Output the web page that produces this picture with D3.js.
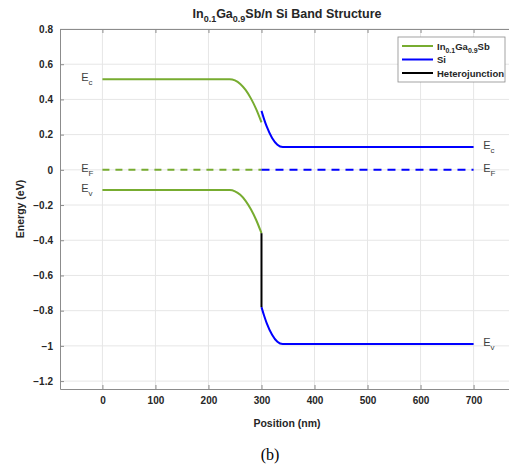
<!DOCTYPE html>
<html>
<head>
<meta charset="utf-8">
<script src="https://cdn.jsdelivr.net/npm/d3@7"></script>
<style>
  body { margin: 0; background: #fff; }
  svg { font-family: Arial, "Liberation Sans", Helvetica, sans-serif; }
</style>
</head>
<body>
<div id="chart"></div>
<script>
// values (position nm, energy eV)
const ingasbEc = [[0, 0.515], [240, 0.515], [250, 0.508], [260, 0.488], [270, 0.454], [280, 0.406], [290, 0.345], [300, 0.27]]
const ingasbEv = [[0, -0.115], [240, -0.115], [250, -0.122], [260, -0.142], [270, -0.176], [280, -0.224], [290, -0.285], [300, -0.36]]
const siEc = [[300, 0.335], [305, 0.287], [310, 0.245], [320, 0.181], [330, 0.143], [340, 0.13], [700, 0.13]]
const siEv = [[300, -0.78], [305, -0.829], [310, -0.872], [320, -0.937], [330, -0.977], [340, -0.99], [700, -0.99]]
const hetero = [[300, -0.36], [300, -0.78]]
const ingasbEf = [[0, 0], [300, 0]]
const siEf = [[300, 0], [700, 0]]
const xTicks = [0, 100, 200, 300, 400, 500, 600, 700]
const yTicks = [0.8, 0.6, 0.4, 0.2, 0, -0.2, -0.4, -0.6, -0.8, -1, -1.2]

const width = 509, height = 465
const m = { left: 60, top: 29, right: -7, bottom: 76 }
const w = width - m.left - m.right, h = height - m.top - m.bottom

const green = '#77ac30', blue = '#0000ff'

let svg = d3.select('#chart').append('svg')
    .attr('width', width)
    .attr('height', height)

let x = d3.scaleLinear().domain([-80, 780]).range([0, w])
let y = d3.scaleLinear().domain([-1.245, 0.8]).range([h, 0])

let g = svg.append('g').attr('transform', `translate(${m.left},${m.top})`)

// grid
g.append('g').selectAll('line').data(xTicks).enter().append('line')
    .attr('x1', d => x(d)).attr('x2', d => x(d))
    .attr('y1', 0).attr('y2', h)
    .attr('stroke', '#e6e6e6')
g.append('g').selectAll('line').data(yTicks).enter().append('line')
    .attr('x1', 0).attr('x2', w)
    .attr('y1', d => y(d)).attr('y2', d => y(d))
    .attr('stroke', '#e6e6e6')

// axes (matlab-ish: inward ticks, box)
let xAxis = d3.axisBottom(x).tickValues(xTicks).tickSizeInner(-4).tickSizeOuter(0).tickPadding(8)
let yAxis = d3.axisLeft(y).tickValues(yTicks).tickSizeInner(-4).tickSizeOuter(0).tickPadding(7)
    .tickFormat(d => d3.format('')(Math.round(d * 10) / 10))
let xAxisTop = d3.axisTop(x).tickValues(xTicks).tickSizeInner(-4).tickSizeOuter(0).tickFormat('')

let gx = g.append('g').attr('transform', `translate(0,${h})`).call(xAxis)
let gy = g.append('g').call(yAxis)
let gt = g.append('g').call(xAxisTop)
;[gx, gy, gt].forEach(a => {
    a.select('.domain').attr('stroke', '#8c8c8c')
    a.selectAll('.tick line').attr('stroke', '#8c8c8c')
    a.selectAll('.tick text').attr('fill', '#262626')
        .style('font-size', '10px').style('font-weight', 'bold')
})

// curves
let line = d3.line().x(d => x(d[0])).y(d => y(d[1])).curve(d3.curveMonotoneX)
let straight = d3.line().x(d => x(d[0])).y(d => y(d[1]))

let curves = [
    { d: ingasbEc, c: green, f: line },
    { d: ingasbEv, c: green, f: line },
    { d: siEc, c: blue, f: line },
    { d: siEv, c: blue, f: line },
    { d: hetero, c: '#000', f: straight },
    { d: ingasbEf, c: green, f: straight, dash: '7,6' },
    { d: siEf, c: blue, f: straight, dash: '8,6' }
]
g.append('g').selectAll('path').data(curves).enter().append('path')
    .attr('d', d => d.f(d.d))
    .attr('fill', 'none')
    .attr('stroke', d => d.c)
    .attr('stroke-width', 2)
    .attr('stroke-dasharray', d => d.dash || null)

// band labels
let bandLabels = [
    { x: -40, y: 0.515, s: 'c' },
    { x: -40, y: 0, s: 'F' },
    { x: -40, y: -0.115, s: 'v' },
    { x: 718, y: 0.13, s: 'c' },
    { x: 718, y: 0, s: 'F' },
    { x: 718, y: -0.99, s: 'v' }
]
let bl = g.append('g').selectAll('text').data(bandLabels).enter().append('text')
    .attr('x', d => x(d.x))
    .attr('y', d => y(d.y) + 2)
    .attr('fill', '#404040')
    .style('font-size', '11px')
bl.append('tspan').text('E')
bl.append('tspan').attr('dy', 4).style('font-size', '8px').text(d => d.s)

// legend
let lg = svg.append('g').attr('transform', 'translate(398,37)')
lg.append('rect').attr('width', 107).attr('height', 45)
    .attr('fill', '#fff').attr('stroke', '#8c8c8c').attr('stroke-width', 0.8)
let legendItems = [
    { c: green, t: [['In', 0], ['0.1', 1], ['Ga', 0], ['0.9', 1], ['Sb', 0]] },
    { c: blue, t: [['Si', 0]] },
    { c: '#000', t: [['Heterojunction', 0]] }
]
legendItems.forEach((it, i) => {
    let yy = 9 + i * 13.5
    lg.append('line').attr('x1', 4).attr('x2', 35).attr('y1', yy).attr('y2', yy)
        .attr('stroke', it.c).attr('stroke-width', 2)
    let t = lg.append('text').attr('x', 39).attr('y', yy + 3.5)
        .attr('fill', '#262626').style('font-size', '9.5px').style('font-weight', 'bold')
    let prevSub = 0
    it.t.forEach(p => {
        let dy = (p[1] - prevSub) * 3
        t.append('tspan').attr('dy', dy).style('font-size', p[1] ? '7px' : '9.5px').text(p[0])
        prevSub = p[1]
    })
})

// title
let title = svg.append('text')
    .attr('x', 287).attr('y', 18)
    .attr('text-anchor', 'middle')
    .attr('fill', '#262626')
    .style('font-size', '12.5px').style('font-weight', 'bold')
title.append('tspan').text('In')
title.append('tspan').attr('dy', 3.5).style('font-size', '9px').text('0.1')
title.append('tspan').attr('dy', -3.5).text('Ga')
title.append('tspan').attr('dy', 3.5).style('font-size', '9px').text('0.9')
title.append('tspan').attr('dy', -3.5).text('Sb/n Si Band Structure')

// axis labels
svg.append('text')
    .attr('x', 287).attr('y', 427)
    .attr('text-anchor', 'middle')
    .attr('fill', '#262626')
    .style('font-size', '10.5px').style('font-weight', 'bold')
    .text('Position (nm)')
svg.append('text')
    .attr('transform', `translate(24,${m.top + h / 2}) rotate(-90)`)
    .attr('text-anchor', 'middle')
    .attr('fill', '#262626')
    .style('font-size', '10.5px').style('font-weight', 'bold')
    .text('Energy (eV)')

svg.append('text')
    .attr('x', 270).attr('y', 460)
    .attr('text-anchor', 'middle')
    .attr('fill', '#000')
    .style('font-family', '"Liberation Serif", "DejaVu Serif", serif')
    .style('font-size', '16px')
    .text('(b)')
</script>
</body>
</html>
